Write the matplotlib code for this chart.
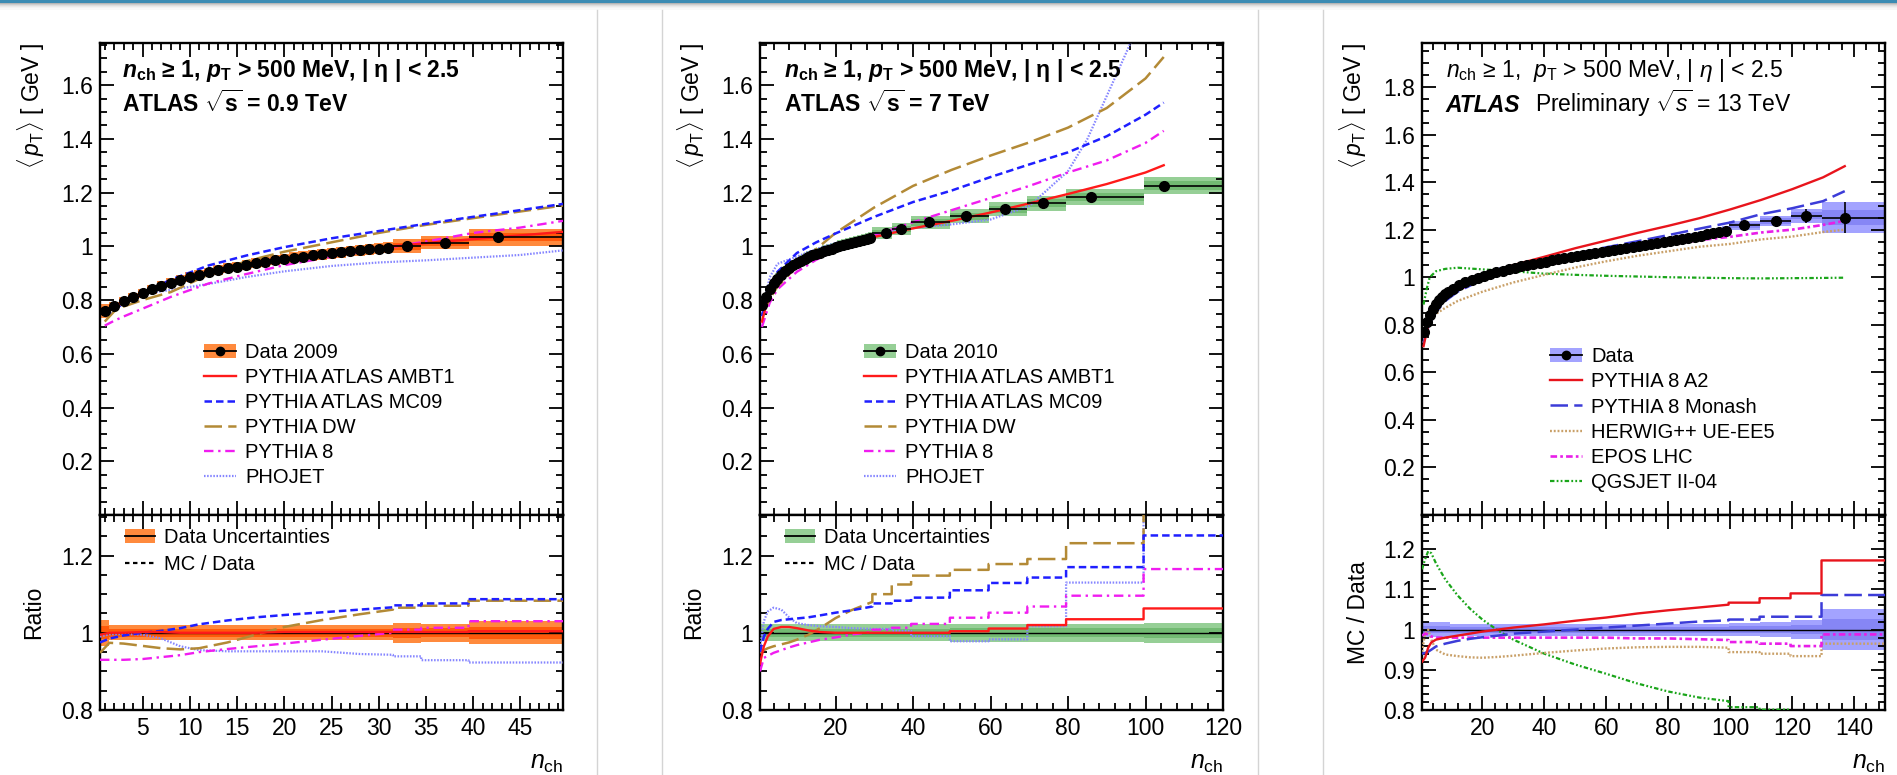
import numpy as np
import matplotlib.pyplot as plt
from matplotlib.lines import Line2D
from matplotlib.patches import Patch, Rectangle
from matplotlib.ticker import MultipleLocator, FuncFormatter

plt.rcParams['font.family'] = ['Liberation Sans', 'DejaVu Sans']
plt.rcParams['mathtext.fontset'] = 'custom'
plt.rcParams['mathtext.rm'] = 'Liberation Sans'
plt.rcParams['mathtext.it'] = 'Liberation Sans:italic'
plt.rcParams['mathtext.bf'] = 'Liberation Sans:bold'
if 'mathtext.bfit' in plt.rcParams:
    plt.rcParams['mathtext.bfit'] = 'Liberation Sans:bold:italic'

# ---------------- 0.9 TeV (Data 2009) ----------------
d09_edges = list(np.arange(0.5, 32.0, 1.0)) + [34.5, 39.5, 49.5]
d09_x = list(range(1, 32)) + [33.0, 37.0, 42.6]
d09_y = [0.760, 0.778, 0.795, 0.811, 0.826, 0.840, 0.853, 0.865, 0.876, 0.886,
         0.895, 0.903, 0.911, 0.918, 0.925, 0.931, 0.937, 0.943, 0.948, 0.953,
         0.958, 0.962, 0.966, 0.970, 0.974, 0.978, 0.982, 0.985, 0.989, 0.992,
         0.995, 1.001, 1.014, 1.034]
d09_err = [0.033] + [0.020] * 30 + [0.026, 0.024, 0.030]

m09_x = [1, 2, 3, 5, 8, 12, 16, 20, 25, 30, 35, 40, 45, 49.5]
m09_ambt1 = [0.745, 0.775, 0.795, 0.826, 0.866, 0.904, 0.932, 0.955, 0.977, 0.995, 1.012, 1.027, 1.041, 1.054]
m09_mc09 = [0.740, 0.765, 0.787, 0.826, 0.876, 0.929, 0.966, 0.997, 1.030, 1.057, 1.084, 1.110, 1.135, 1.158]
m09_dw = [0.720, 0.758, 0.776, 0.800, 0.830, 0.895, 0.945, 0.980, 1.015, 1.050, 1.080, 1.105, 1.130, 1.152]
m09_py8 = [0.705, 0.723, 0.739, 0.768, 0.812, 0.862, 0.897, 0.930, 0.961, 0.990, 1.018, 1.050, 1.070, 1.095]
m09_phojet = [0.752, 0.775, 0.792, 0.822, 0.838, 0.860, 0.886, 0.907, 0.927, 0.940, 0.948, 0.958, 0.968, 0.985]

r09_x = [0.5, 1.5, 3, 5, 7, 9, 11, 14, 17, 20, 24, 28, 31.5]
r09_edges = [31.5, 34.5, 39.5, 49.5]
r09_ambt1 = [0.995, 1.0, 1.0, 1.002, 1.002, 1.0, 1.0, 1.0, 1.0, 1.002, 1.002, 1.002, 1.002]
r09_ambt1_c = [1.002, 1.002, 1.004]
r09_mc09 = [0.975, 0.985, 0.993, 1.0, 1.005, 1.012, 1.022, 1.032, 1.040, 1.046, 1.053, 1.060, 1.066]
r09_mc09_c = [1.071, 1.076, 1.087]
r09_dw = [0.948, 0.974, 0.972, 0.966, 0.960, 0.957, 0.960, 0.975, 0.995, 1.015, 1.033, 1.048, 1.060]
r09_dw_c = [1.065, 1.070, 1.083]
r09_py8 = [0.930, 0.930, 0.930, 0.932, 0.937, 0.942, 0.950, 0.958, 0.965, 0.972, 0.982, 0.992, 1.000]
r09_py8_c = [1.008, 1.013, 1.030]
r09_phojet = [0.990, 0.996, 0.997, 0.995, 0.985, 0.965, 0.955, 0.952, 0.952, 0.952, 0.952, 0.945, 0.943]
r09_phojet_c = [0.939, 0.929, 0.923]

# ---------------- 7 TeV (Data 2010) ----------------
d7_edges = list(np.arange(0.5, 30.0, 1.0)) + [34.5, 39.5, 49.5, 59.5, 69.5, 79.5, 99.5, 120.0]
d7_x = list(range(1, 30)) + [32.9, 37.0, 44.0, 53.6, 63.8, 73.6, 86.0, 104.7]
d7_y = [0.780, 0.810, 0.840, 0.862, 0.880, 0.895, 0.908, 0.919, 0.929, 0.938,
        0.946, 0.953, 0.960, 0.966, 0.972, 0.977, 0.982, 0.987, 0.992, 0.996,
        1.000, 1.004, 1.008, 1.012, 1.016, 1.020, 1.024, 1.028, 1.032,
        1.050, 1.064, 1.089, 1.112, 1.139, 1.161, 1.184, 1.226]
d7_err = [0.022] * 29 + [0.022, 0.022, 0.022, 0.023, 0.023, 0.024, 0.024, 0.026]

m7_x = [1, 3, 5, 10, 15, 20, 30, 40, 50, 60, 70, 80, 90, 100, 104.7]
m7_ambt1 = [0.720, 0.830, 0.895, 0.952, 0.980, 0.998, 1.035, 1.067, 1.095, 1.126, 1.160, 1.195, 1.232, 1.275, 1.302]
m7_mc09 = [0.740, 0.835, 0.905, 0.975, 1.015, 1.048, 1.110, 1.165, 1.208, 1.258, 1.305, 1.350, 1.410, 1.490, 1.535]
m7_dw = [0.740, 0.805, 0.850, 0.925, 0.990, 1.050, 1.145, 1.225, 1.285, 1.338, 1.387, 1.442, 1.515, 1.625, 1.705]
m7_py8 = [0.700, 0.790, 0.840, 0.905, 0.950, 0.985, 1.040, 1.090, 1.135, 1.180, 1.225, 1.275, 1.320, 1.385, 1.430]
m7_phojet_x = [1, 3, 5, 10, 15, 20, 30, 40, 50, 60, 70, 80, 85, 90, 95, 98]
m7_phojet = [0.750, 0.885, 0.935, 0.962, 0.990, 1.012, 1.045, 1.068, 1.082, 1.100, 1.150, 1.280, 1.400, 1.560, 1.720, 1.820]

r7_x = [0.5, 1.5, 2.5, 4, 6, 8, 10, 13, 16, 20, 24, 29.5]
r7_edges = [29.5, 34.5, 39.5, 49.5, 59.5, 69.5, 79.5, 99.5, 120.0]
r7_ambt1 = [0.920, 0.965, 0.990, 1.010, 1.015, 1.015, 1.012, 1.006, 1.002, 1.0, 1.0, 1.0]
r7_ambt1_c = [1.0, 1.0, 1.0, 1.004, 1.011, 1.020, 1.035, 1.063]
r7_mc09 = [0.950, 0.990, 1.010, 1.028, 1.033, 1.035, 1.037, 1.040, 1.045, 1.052, 1.058, 1.068]
r7_mc09_c = [1.076, 1.083, 1.091, 1.110, 1.129, 1.143, 1.170, 1.252]
r7_dw = [0.948, 0.955, 0.960, 0.965, 0.970, 0.975, 0.982, 0.995, 1.012, 1.038, 1.058, 1.080]
r7_dw_c = [1.100, 1.125, 1.148, 1.163, 1.178, 1.191, 1.232, 1.400]
r7_py8 = [0.900, 0.935, 0.940, 0.948, 0.955, 0.962, 0.968, 0.975, 0.982, 0.988, 0.995, 1.003]
r7_py8_c = [1.008, 1.013, 1.023, 1.039, 1.052, 1.068, 1.096, 1.165]
r7_phojet = [0.960, 1.030, 1.055, 1.065, 1.060, 1.040, 1.025, 1.020, 1.017, 1.015, 1.012, 1.010]
r7_phojet_c = [1.010, 1.005, 0.991, 0.978, 0.983, 1.017, 1.130, 1.450]

# ---------------- 13 TeV ----------------
d13_edges = list(np.arange(0.5, 10.0, 1.0)) + list(np.arange(11.5, 100.0, 2.0)) + [109.5, 119.5, 129.5, 150.0]
d13_x = list(range(1, 10)) + list(np.arange(10.5, 99.0, 2.0)) + [104.6, 114.8, 124.6, 137.0]
d13_y = [0.770, 0.810, 0.843, 0.868, 0.888, 0.904, 0.917, 0.928, 0.938,
         0.952, 0.966, 0.978, 0.988, 0.997, 1.005, 1.013, 1.020, 1.027, 1.034,
         1.040, 1.046, 1.051, 1.056, 1.061, 1.066, 1.071, 1.076, 1.080, 1.085,
         1.089, 1.094, 1.098, 1.103, 1.107, 1.111, 1.115, 1.120, 1.124, 1.128,
         1.132, 1.136, 1.140, 1.145, 1.149, 1.153, 1.157, 1.161, 1.166, 1.170,
         1.175, 1.180, 1.185, 1.190, 1.196,
         1.218, 1.236, 1.258, 1.250]
d13_err = [0.018] * 9 + [0.015] * 45 + [0.016, 0.018, 0.023, 0.052]

m13_x = [1, 2, 3, 5, 8, 12, 20, 30, 40, 50, 60, 70, 80, 90, 100, 110, 120, 130, 137]
m13_a2 = [0.710, 0.770, 0.818, 0.868, 0.911, 0.950, 1.005, 1.051, 1.086, 1.122, 1.154, 1.186, 1.216, 1.248, 1.285, 1.325, 1.370, 1.420, 1.467]
m13_monash = [0.724, 0.770, 0.807, 0.854, 0.900, 0.939, 0.990, 1.036, 1.067, 1.098, 1.126, 1.151, 1.177, 1.204, 1.230, 1.265, 1.290, 1.320, 1.362]
m13_herwig = [0.724, 0.786, 0.828, 0.846, 0.871, 0.900, 0.939, 0.978, 1.010, 1.041, 1.067, 1.090, 1.109, 1.128, 1.140, 1.159, 1.171, 1.190, 1.200]
m13_epos = [0.758, 0.800, 0.830, 0.873, 0.912, 0.946, 0.990, 1.025, 1.050, 1.076, 1.098, 1.117, 1.137, 1.156, 1.170, 1.188, 1.200, 1.220, 1.237]
m13_qgs = [0.885, 0.950, 1.000, 1.025, 1.035, 1.040, 1.033, 1.025, 1.015, 1.010, 1.006, 1.003, 1.000, 0.998, 0.996, 0.995, 0.996, 0.997, 0.998]

r13_x = [0.5, 1.5, 2.5, 3.5, 5, 8, 12, 16, 20, 25, 30, 40, 50, 60, 70, 80, 90, 99.5]
r13_edges = [99.5, 109.5, 119.5, 129.5, 150.0]
r13_a2 = [0.920, 0.930, 0.955, 0.968, 0.975, 0.980, 0.985, 0.990, 0.995, 1.000, 1.005, 1.013, 1.022, 1.030, 1.040, 1.048, 1.055, 1.062]
r13_a2_c = [1.067, 1.078, 1.090, 1.172]
r13_monash = [0.940, 0.942, 0.945, 0.950, 0.958, 0.965, 0.972, 0.977, 0.981, 0.985, 0.990, 0.995, 1.000, 1.005, 1.010, 1.015, 1.020, 1.023]
r13_monash_c = [1.025, 1.032, 1.032, 1.086]
r13_herwig = [0.945, 0.990, 1.000, 0.975, 0.950, 0.938, 0.934, 0.931, 0.930, 0.932, 0.935, 0.942, 0.948, 0.953, 0.956, 0.957, 0.957, 0.955]
r13_herwig_c = [0.944, 0.940, 0.934, 0.965]
r13_epos = [0.985, 0.990, 0.988, 0.983, 0.980, 0.980, 0.980, 0.980, 0.980, 0.980, 0.980, 0.980, 0.980, 0.980, 0.978, 0.978, 0.976, 0.974]
r13_epos_c = [0.969, 0.965, 0.959, 0.988]
r13_qgs = [1.150, 1.175, 1.195, 1.190, 1.165, 1.125, 1.085, 1.052, 1.025, 0.998, 0.975, 0.940, 0.913, 0.890, 0.866, 0.846, 0.831, 0.822]
r13_qgs_c = [0.807, 0.801, 0.790, 0.780]

# ---------------- styles ----------------
S_AMBT1 = dict(color='#ff1a1a', lw=1.7, ls='-')
S_MC09 = dict(color='#1f1fff', lw=1.8, ls=(0, (3, 1.6)))
S_DW = dict(color='#b38a36', lw=1.8, ls=(0, (7, 2.5)))
S_PY8 = dict(color='#f01cf0', lw=1.7, ls=(0, (4, 2, 1, 2)))
S_PHO = dict(color='#8585ff', lw=1.6, ls=(0, (0.7, 0.7)))
S_A2 = dict(color='#e8141c', lw=1.7, ls='-')
S_MON = dict(color='#3c3cd8', lw=1.8, ls=(0, (7, 2.5)))
S_HER = dict(color='#c9a068', lw=1.7, ls=(0, (0.8, 0.8)))
S_EPOS = dict(color='#e81ee8', lw=1.9, ls=(0, (2.5, 1.2, 1, 1.2)))
S_QGS = dict(color='#1aa51a', lw=1.6, ls=(0, (2, 1, 0.8, 1, 0.8, 1)))

W, H = 1897, 775
fig = plt.figure(figsize=(W / 100, H / 100), dpi=100)
fig.patch.set_facecolor('white')

# page frame (top bar, shadow, card separators)
fig.add_artist(Rectangle((0, 1 - 3.5 / H), 1, 3.5 / H, transform=fig.transFigure,
                         color='#3b8bb3', lw=0))
for i, c in enumerate(['#b5b5b5', '#cccccc', '#dddddd', '#e9e9e9', '#f2f2f2', '#f8f8f8']):
    fig.add_artist(Rectangle((0, 1 - (4.5 + i) / H), 1, 1 / H, transform=fig.transFigure,
                             color=c, lw=0))
for xp in [597, 662, 1258, 1323]:
    fig.add_artist(Line2D([xp / W, xp / W], [0, 1 - 10 / H], transform=fig.transFigure,
                          color='#d4d4d4', lw=1))

fmt = FuncFormatter(lambda v, p: '' if abs(v) < 1e-9 else f'{v:g}')


def style_axes(a, xmaj, xmin, ymaj, ymin):
    a.xaxis.set_major_locator(MultipleLocator(xmaj))
    a.xaxis.set_minor_locator(MultipleLocator(xmin))
    a.yaxis.set_major_locator(MultipleLocator(ymaj))
    a.yaxis.set_minor_locator(MultipleLocator(ymin))
    a.yaxis.set_major_formatter(fmt)
    a.tick_params(which='both', direction='in', top=True, right=True, width=1.3,
                  labelsize=16.5, pad=5)
    a.tick_params(which='major', length=10)
    a.tick_params(which='minor', length=5)
    for s in a.spines.values():
        s.set_linewidth(1.7)


def ratio_path(fx, fy, edges, cy):
    x = np.concatenate([fx, np.repeat(edges, 2)[1:-1]])
    y = np.concatenate([fy, np.repeat(cy, 2)])
    return x, y


def draw_panel(left, xlim, ymax, rlim, xmaj, xmin, rmaj, rmin,
               edges, xs, ys, errs, c_out, c_in, yerr_bars,
               curves, ratios, rx, redges):
    ax = fig.add_axes([left / W, 1 - 515 / H, 463 / W, 472 / H])
    axr = fig.add_axes([left / W, 1 - 710 / H, 463 / W, 195 / H])
    edges = np.asarray(edges)
    lo, hi = edges[:-1], edges[1:]
    ys = np.asarray(ys)
    er = np.asarray(errs)
    e = ys * er
    ax.bar(lo, 2 * e, bottom=ys - e, width=hi - lo, align='edge', color=c_out, lw=0, zorder=1)
    ax.bar(lo, e, bottom=ys - e / 2, width=hi - lo, align='edge', color=c_in, lw=0, zorder=1)
    axr.bar(lo, 2 * er, bottom=1 - er, width=hi - lo, align='edge', color=c_out, lw=0, zorder=1)
    axr.bar(lo, er, bottom=1 - er / 2, width=hi - lo, align='edge', color=c_in, lw=0, zorder=1)
    axr.axhline(1, color='k', lw=1.0, zorder=2)

    for cx, cy, st in curves:
        ax.plot(cx, cy, zorder=3, **st)
    for fy, cy, st in ratios:
        px, py = ratio_path(rx, fy, redges, cy)
        axr.plot(px, py, zorder=3, **st)

    ax.hlines(ys, lo, hi, color='k', lw=1.2, zorder=4)
    if yerr_bars:
        ax.vlines(xs, ys - e, ys + e, color='k', lw=1.2, zorder=4)
    ax.plot(xs, ys, 'o', color='k', ms=7, zorder=5)

    ax.set_xlim(*xlim)
    axr.set_xlim(*xlim)
    ax.set_ylim(0, ymax)
    axr.set_ylim(*rlim)
    style_axes(ax, xmaj, xmin, 0.2, 0.05)
    style_axes(axr, xmaj, xmin, rmaj, rmin)
    ax.tick_params(labelbottom=False)
    ax.text(-0.149, 1.0, r'$\langle\, p_{\mathrm{T}} \rangle$ [ GeV ]', rotation=90,
            ha='center', va='top', fontsize=16.5, transform=ax.transAxes)
    axr.text(1.0, -0.272, r'$n_{\mathrm{ch}}$', ha='right', va='center', fontsize=18,
             transform=axr.transAxes)
    return ax, axr


def data_handle(c_out, marker=True):
    return (Patch(facecolor=c_out, edgecolor='none'),
            Line2D([], [], color='k', lw=1.3, marker='o' if marker else None, ms=6))


# ---------------- panel 1 : 0.9 TeV ----------------
C09 = ('#ff8a3d', '#ff5a0a')
ax1, ax1r = draw_panel(
    100, (0.5, 49.5), 1.757, (0.8, 1.305), 5, 1, 0.2, 0.05,
    d09_edges, d09_x, d09_y, d09_err, C09[0], C09[1], False,
    [(m09_x, m09_phojet, S_PHO), (m09_x, m09_py8, S_PY8), (m09_x, m09_dw, S_DW),
     (m09_x, m09_mc09, S_MC09), (m09_x, m09_ambt1, S_AMBT1)],
    [(r09_phojet, r09_phojet_c, S_PHO), (r09_py8, r09_py8_c, S_PY8),
     (r09_dw, r09_dw_c, S_DW), (r09_mc09, r09_mc09_c, S_MC09),
     (r09_ambt1, r09_ambt1_c, S_AMBT1)],
    r09_x, r09_edges)

# ---------------- panel 2 : 7 TeV ----------------
C7 = ('#96cf96', '#72ba72')
ax2, ax2r = draw_panel(
    760, (0.5, 120), 1.757, (0.8, 1.305), 20, 4, 0.2, 0.05,
    d7_edges, d7_x, d7_y, d7_err, C7[0], C7[1], False,
    [(m7_phojet_x, m7_phojet, S_PHO), (m7_x, m7_py8, S_PY8), (m7_x, m7_dw, S_DW),
     (m7_x, m7_mc09, S_MC09), (m7_x, m7_ambt1, S_AMBT1)],
    [(r7_phojet, r7_phojet_c, S_PHO), (r7_py8, r7_py8_c, S_PY8),
     (r7_dw, r7_dw_c, S_DW), (r7_mc09, r7_mc09_c, S_MC09),
     (r7_ambt1, r7_ambt1_c, S_AMBT1)],
    r7_x, r7_edges)

# ---------------- panel 3 : 13 TeV ----------------
C13 = ('#a3a3ff', '#8686f5')
ax3, ax3r = draw_panel(
    1422, (0.5, 150), 1.985, (0.8, 1.285), 20, 4, 0.1, 0.02,
    d13_edges, d13_x, d13_y, d13_err, C13[0], C13[1], True,
    [(m13_x, m13_qgs, S_QGS), (m13_x, m13_herwig, S_HER), (m13_x, m13_epos, S_EPOS),
     (m13_x, m13_monash, S_MON), (m13_x, m13_a2, S_A2)],
    [(r13_qgs, r13_qgs_c, S_QGS), (r13_herwig, r13_herwig_c, S_HER),
     (r13_epos, r13_epos_c, S_EPOS), (r13_monash, r13_monash_c, S_MON),
     (r13_a2, r13_a2_c, S_A2)],
    r13_x, r13_edges)

# ---------------- labels, legends, texts ----------------
for a in (ax1r, ax2r):
    a.text(-0.144, 0.5, 'Ratio', rotation=90, ha='center', va='center', fontsize=16.5,
           transform=a.transAxes)
ax3r.text(-0.138, 0.5, 'MC / Data', rotation=90, ha='center', va='center', fontsize=16.5,
          transform=ax3r.transAxes)

line1_b = r'$\mathbfit{n}_{\mathbf{ch}}$ ≥ 1, $\mathbfit{p}_{\mathbf{T}}$ > 500 MeV, | η | < 2.5'
for a, energy, x0 in [(ax1, '0.9', 0.048), (ax2, '7', 0.052)]:
    a.text(x0, 0.929, line1_b, fontsize=16.5, fontweight='bold', va='baseline',
           transform=a.transAxes)
    a.text(x0, 0.853, r'ATLAS $\sqrt{\mathbf{s}}$ = ' + energy + ' TeV', fontsize=16.5,
           fontweight='bold', va='baseline', transform=a.transAxes)
ax3.text(0.051, 0.929, r'$n_{\mathrm{ch}}$ ≥ 1,  $p_{\mathrm{T}}$ > 500 MeV, | $\eta$ | < 2.5',
         fontsize=16.5, va='baseline', transform=ax3.transAxes)
ax3.text(0.051, 0.853, 'ATLAS', fontsize=16.5, fontweight='bold', fontstyle='italic',
         va='baseline', transform=ax3.transAxes)
ax3.text(0.245, 0.853, r'Preliminary $\sqrt{s}$ = 13 TeV', fontsize=16.5, va='baseline',
         transform=ax3.transAxes)

leg_kw = dict(loc='upper left', frameon=False, fontsize=14.5, borderpad=0,
              borderaxespad=0, handlelength=1.6, handletextpad=0.45, labelspacing=0.3)
mc_lines = [Line2D([], [], **S_AMBT1), Line2D([], [], **S_MC09), Line2D([], [], **S_DW),
            Line2D([], [], **S_PY8), Line2D([], [], **S_PHO)]
mc_names = ['PYTHIA ATLAS AMBT1', 'PYTHIA ATLAS MC09', 'PYTHIA DW', 'PYTHIA 8', 'PHOJET']
ax1.legend([data_handle(C09[0])] + mc_lines, ['Data 2009'] + mc_names,
           bbox_to_anchor=(0.225, 0.365), **leg_kw)
ax2.legend([data_handle(C7[0])] + mc_lines, ['Data 2010'] + mc_names,
           bbox_to_anchor=(0.225, 0.365), **leg_kw)
ax3.legend([data_handle(C13[0])] + [Line2D([], [], **S_A2), Line2D([], [], **S_MON),
                                     Line2D([], [], **S_HER), Line2D([], [], **S_EPOS),
                                     Line2D([], [], **S_QGS)],
           ['Data', 'PYTHIA 8 A2', 'PYTHIA 8 Monash', 'HERWIG++ UE-EE5', 'EPOS LHC',
            'QGSJET II-04'],
           bbox_to_anchor=(0.276, 0.355), **leg_kw)

for a, c in [(ax1r, C09[0]), (ax2r, C7[0])]:
    a.legend([data_handle(c, marker=False), Line2D([], [], color='k', lw=1.6, ls=(0, (2, 1.6)))],
             ['Data Uncertainties', 'MC / Data'], bbox_to_anchor=(0.054, 0.935),
             **dict(leg_kw, labelspacing=0.42, handlelength=1.5))

fig.savefig('out.png', dpi=100)
